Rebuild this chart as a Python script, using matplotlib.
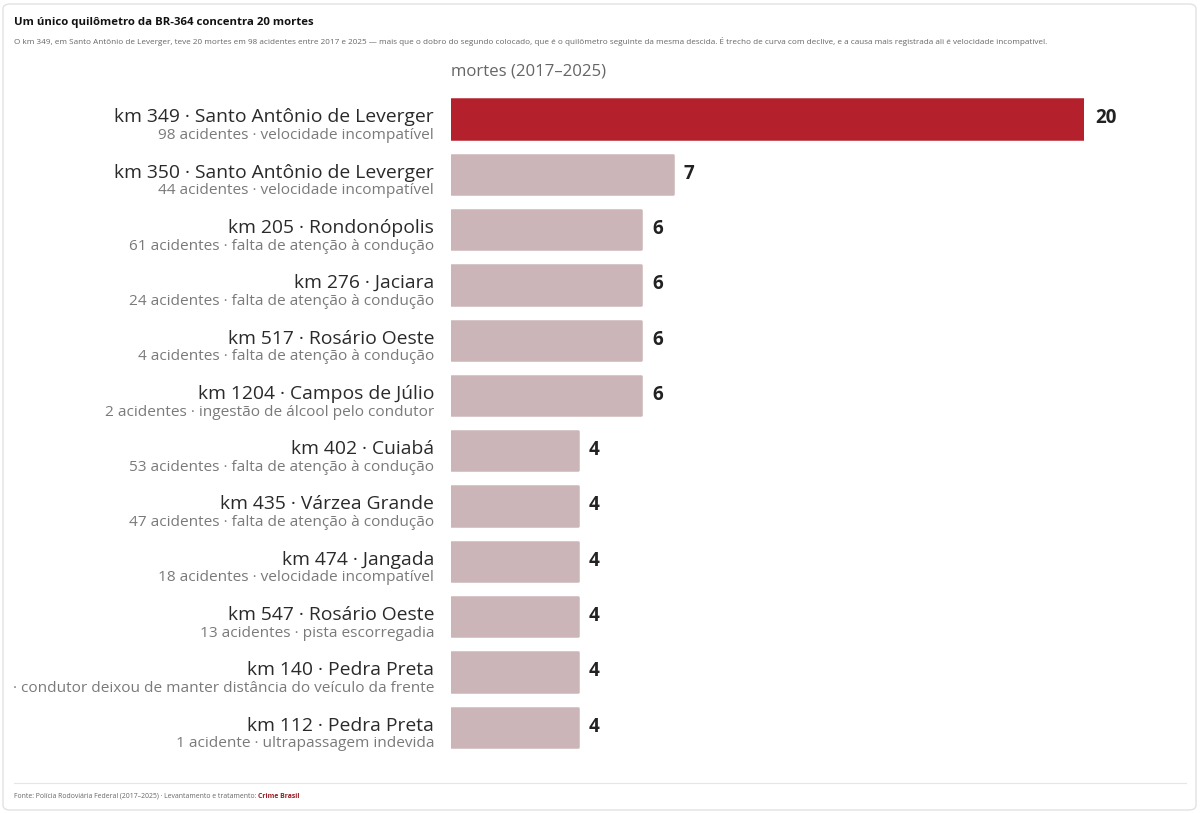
import matplotlib.pyplot as plt
from matplotlib.patches import FancyBboxPatch
from matplotlib.lines import Line2D

plt.rcParams['font.family'] = ['Open Sans', 'DejaVu Sans']

# dados: mortes por km da BR-364 (2017-2025)
kms = ["km 349 · Santo Antônio de Leverger", "km 350 · Santo Antônio de Leverger",
       "km 205 · Rondonópolis", "km 276 · Jaciara", "km 517 · Rosário Oeste",
       "km 1204 · Campos de Júlio", "km 402 · Cuiabá", "km 435 · Várzea Grande",
       "km 474 · Jangada", "km 547 · Rosário Oeste", "km 140 · Pedra Preta",
       "km 112 · Pedra Preta"]
detalhes = ["98 acidentes · velocidade incompatível", "44 acidentes · velocidade incompatível",
            "61 acidentes · falta de atenção à condução", "24 acidentes · falta de atenção à condução",
            "4 acidentes · falta de atenção à condução", "2 acidentes · ingestão de álcool pelo condutor",
            "53 acidentes · falta de atenção à condução", "47 acidentes · falta de atenção à condução",
            "18 acidentes · velocidade incompatível", "13 acidentes · pista escorregadia",
            "· condutor deixou de manter distância do veículo da frente",
            "1 acidente · ultrapassagem indevida"]
mortes = [20, 7, 6, 6, 6, 6, 4, 4, 4, 4, 4, 4]

W, H = 1200, 813
px = 1 / 100
fig = plt.figure(figsize=(W * px, H * px), dpi=100)

# cartão com borda
card = FancyBboxPatch((3 / W, 3 / H), 1193 / W, 806 / H, boxstyle="round,pad=0,rounding_size=0.006",
                      transform=fig.transFigure, facecolor="none", edgecolor="#e2e2e2", linewidth=1)
fig.patches.append(card)

fig.text(14 / W, 1 - 22 / H, "Um único quilômetro da BR-364 concentra 20 mortes",
         fontsize=8.2, fontweight="bold", color="#111111", va="center")
fig.text(14 / W, 1 - 41.5 / H,
         "O km 349, em Santo Antônio de Leverger, teve 20 mortes em 98 acidentes entre 2017 e 2025 — mais que o dobro do "
         "segundo colocado, que é o quilômetro seguinte da mesma descida. É trecho de curva com declive, e a causa mais "
         "registrada ali é velocidade incompatível.",
         fontsize=5.83, color="#666666", va="center")

pitch = 55.3
top_px = 119 - pitch / 2
bot_px = 119 + pitch * 11.5
ax = fig.add_axes([451 / W, 1 - bot_px / H, (1084 - 451) / W, (bot_px - top_px) / H])
ax.set_xlim(0, 20)
ax.set_ylim(11.5, -0.5)
ax.axis("off")

cores = ["#b5202d"] + ["#cbb5b8"] * (len(mortes) - 1)
bars = ax.barh(range(len(mortes)), mortes, height=0.71, color=cores, edgecolor=cores,
               linewidth=1.8)
for b in bars:
    b.set_joinstyle("round")

ax.annotate("mortes (2017–2025)", xy=(0, -0.5), xytext=(0, 14), textcoords="offset points",
            fontsize=12.1, color="#666666", ha="left", va="center", annotation_clip=False)

for i, (km, det, m) in enumerate(zip(kms, detalhes, mortes)):
    ax.annotate(km, xy=(0, i), xytext=(-12.2, -2.4), textcoords="offset points",
                ha="right", va="baseline", fontsize=13.9, color="#2a2a2a", annotation_clip=False)
    ax.annotate(det, xy=(0, i), xytext=(-12.2, -14.4), textcoords="offset points",
                ha="right", va="baseline", fontsize=11.05, color="#7a7a7a", annotation_clip=False)
    ax.annotate(str(m), xy=(m, i), xytext=(8.0, 0.5), textcoords="offset points",
                ha="left", va="center", fontsize=13.6, fontweight="bold", color="#222222",
                annotation_clip=False)

fig.add_artist(Line2D([14 / W, 1186 / W], [1 - 783 / H, 1 - 783 / H], transform=fig.transFigure,
                      color="#e6e6e6", linewidth=0.8))
t1 = fig.text(14 / W, 1 - 796 / H,
              "Fonte: Polícia Rodoviária Federal (2017–2025) · Levantamento e tratamento: ",
              fontsize=4.95, color="#666666", va="center")
fig.canvas.draw()
bb = t1.get_window_extent()
fig.text(bb.x1 / W, 1 - 796 / H, "Crime Brasil", fontsize=4.95, fontweight="bold",
         color="#9b1c26", va="center")

fig.savefig("out.png", dpi=100)
